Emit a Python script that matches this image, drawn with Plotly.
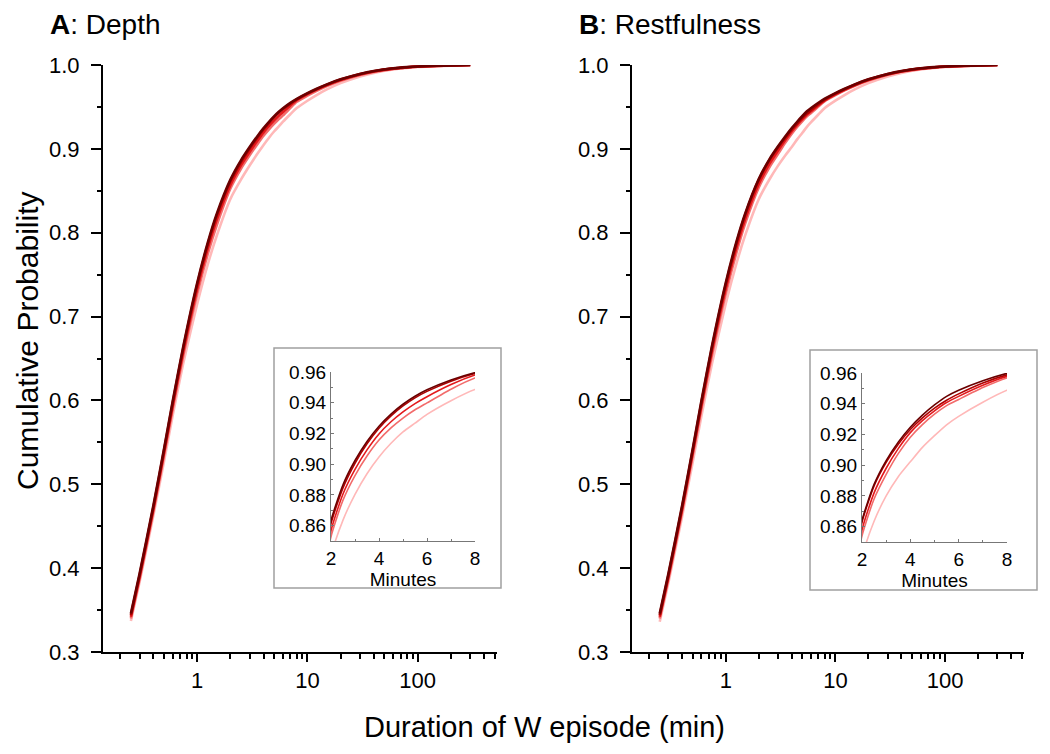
import plotly.graph_objects as go

# ---- data ----
duration_min = [0.25, 0.3, 0.4, 0.5, 0.6, 0.75, 1, 1.25, 1.5, 2, 2.5, 3, 3.5, 4, 4.5, 5, 5.5, 6, 7, 8,
                10, 12, 15, 20, 30, 40, 60, 80, 100, 150, 200, 300]

depth_1 = [.346, .3935, .4747, .5425, .5995, .6654, .7403, .7888, .8221, .8633, .8866, .9024, .9148, .9247, .9326, .9390,
           .9442, .9484, .9548, .9596, .9664, .9714, .9769, .9829, .9894, .9928, .9961, .9975, .9983, .9991, .9994, 1.0]
depth_2 = [.344, .3915, .4727, .5405, .5975, .6634, .7383, .7868, .8201, .8613, .8846, .9006, .9133, .9234, .9314, .9379,
           .9432, .9474, .9540, .9590, .9659, .9710, .9765, .9826, .9892, .9926, .9960, .9974, .9982, .9991, .9994, 1.0]
depth_3 = [.342, .3895, .4702, .5375, .5940, .6594, .7333, .7818, .8151, .8568, .8806, .8966, .9093, .9197, .9276, .9340,
           .9394, .9439, .9518, .9581, .9652, .9704, .9760, .9821, .9888, .9923, .9957, .9972, .9981, .9990, .9993, 1.0]
depth_4 = [.340, .3870, .4677, .5345, .5905, .6544, .7273, .7753, .8086, .8528, .8766, .8926, .9053, .9157, .9236, .9300,
           .9354, .9399, .9488, .9561, .9634, .9689, .9749, .9812, .9882, .9918, .9954, .9970, .9979, .9989, .9993, 1.0]
depth_5 = [.337, .3835, .4627, .5275, .5825, .6454, .7153, .7628, .7961, .8403, .8636, .8804, .8938, .9047, .9136, .9210,
           .9267, .9324, .9413, .9486, .9574, .9639, .9709, .9784, .9864, .9906, .9947, .9965, .9976, .9987, .9992, 1.0]

rest_1 = [.346, .3935, .4747, .5425, .5995, .6654, .7403, .7890, .8225, .8640, .8875, .9030, .9150, .9247, .9326, .9392,
          .9448, .9488, .9550, .9598, .9665, .9714, .9769, .9829, .9894, .9928, .9961, .9975, .9983, .9991, .9994, 1.0]
rest_2 = [.344, .3915, .4727, .5405, .5975, .6634, .7383, .7870, .8210, .8630, .8865, .9018, .9136, .9232, .9308, .9372,
          .9423, .9464, .9535, .9588, .9658, .9709, .9765, .9826, .9892, .9926, .9960, .9974, .9982, .9991, .9994, 1.0]
rest_3 = [.342, .3895, .4702, .5375, .5940, .6594, .7333, .7820, .8157, .8580, .8820, .8980, .9108, .9212, .9290, .9354,
          .9408, .9448, .9520, .9578, .9650, .9702, .9759, .9821, .9888, .9923, .9957, .9972, .9981, .9990, .9993, 1.0]
rest_4 = [.340, .3870, .4677, .5345, .5905, .6544, .7273, .7760, .8105, .8540, .8780, .8940, .9075, .9182, .9264, .9332,
          .9388, .9428, .9505, .9568, .9640, .9694, .9752, .9814, .9883, .9919, .9954, .9970, .9979, .9989, .9993, 1.0]
rest_5 = [.336, .3825, .4617, .5265, .5815, .6444, .7153, .7630, .7965, .8400, .8635, .8800, .8925, .9022, .9116, .9192,
          .9263, .9318, .9410, .9488, .9575, .9639, .9709, .9784, .9864, .9906, .9947, .9965, .9976, .9987, .9992, 1.0]

series_colors = ["#6a0000", "#b00000", "#e3191c", "#f26b6b", "#ffb8b8"]  # dark -> light

main_x_ticks = [1, 10, 100]
main_x_minor = [0.2, 0.3, 0.4, 0.5, 0.6, 0.7, 0.8, 0.9, 2, 3, 4, 5, 6, 7, 8, 9,
                20, 30, 40, 50, 60, 70, 80, 90, 200, 300, 400, 500]
panel_titles = ["<b>A</b>: Depth", "<b>B</b>: Restfulness"]

W, H = 1050, 754
FONT = "Liberation Sans, Arial, sans-serif"

fig = go.Figure()

panels = [
    (["x", "y"], ["x3", "y3"], [depth_1, depth_2, depth_3, depth_4, depth_5]),
    (["x2", "y2"], ["x4", "y4"], [rest_1, rest_2, rest_3, rest_4, rest_5]),
]
for (mx, my), (ix, iy), series in panels:
    # draw light first so dark is on top
    for i in reversed(range(5)):
        fig.add_trace(go.Scatter(x=duration_min, y=series[i], xaxis=mx, yaxis=my, mode="lines",
                                 line=dict(color=series_colors[i], width=2.6, shape="spline", smoothing=0.6),
                                 showlegend=False, hoverinfo="skip"))
        fig.add_trace(go.Scatter(x=duration_min, y=series[i], xaxis=ix, yaxis=iy, mode="lines",
                                 line=dict(color=series_colors[i], width=1.6, shape="spline", smoothing=0.6),
                                 showlegend=False, hoverinfo="skip"))


def px_x(p):
    return p / W


def px_y(p):
    return 1 - p / H


main_x = dict(type="log", range=[-0.855, 2.72], showline=True, linewidth=2, linecolor="black",
              ticks="outside", ticklen=8, tickwidth=1.5, tickcolor="black",
              tickvals=main_x_ticks, ticktext=[str(v) for v in main_x_ticks],
              minor=dict(ticks="outside", ticklen=5, tickwidth=1.5, tickcolor="black", tickvals=main_x_minor),
              showgrid=False, zeroline=False, tickfont=dict(family=FONT, size=22, color="black"),
              automargin=False, fixedrange=True)
main_y = dict(range=[0.3, 1.0], showline=True, linewidth=2, linecolor="black",
              ticks="outside", ticklen=10, tickwidth=1.5, tickcolor="black", dtick=0.1, tickformat=".1f",
              minor=dict(ticks="outside", ticklen=4, tickwidth=1.5, tickcolor="black", dtick=0.05),
              showgrid=False, zeroline=False, tickfont=dict(family=FONT, size=22, color="black"),
              ticklabelstandoff=7, automargin=False, fixedrange=True)
ins_x = dict(range=[2, 8], showline=True, linewidth=1.2, linecolor="#777777",
             ticks="inside", ticklen=3, tickcolor="#777777", dtick=2,
             minor=dict(ticks="inside", ticklen=2, tickcolor="#777777", dtick=1),
             showgrid=False, zeroline=False, tickfont=dict(family=FONT, size=19, color="black"),
             title=dict(text="Minutes", font=dict(family=FONT, size=19, color="black"), standoff=0),
             automargin=False, fixedrange=True)
ins_y = dict(range=[0.85, 0.96], showline=True, linewidth=1.2, linecolor="#777777",
             ticks="inside", ticklen=3, tickcolor="#777777", dtick=0.02, tick0=0.86, tickformat=".2f",
             minor=dict(ticks="inside", ticklen=2, tickcolor="#777777", dtick=0.01),
             showgrid=False, zeroline=False, tickfont=dict(family=FONT, size=19, color="black"),
             automargin=False, fixedrange=True)

fig.update_layout(
    width=W, height=H, margin=dict(l=0, r=0, t=0, b=0), autosize=False,
    plot_bgcolor="white", paper_bgcolor="white",
    xaxis=dict(main_x, domain=[px_x(103), px_x(497)], anchor="y"),
    yaxis=dict(main_y, domain=[px_y(652), px_y(65)], anchor="x"),
    xaxis2=dict(main_x, domain=[px_x(632), px_x(1024)], anchor="y2"),
    yaxis2=dict(main_y, domain=[px_y(652), px_y(65)], anchor="x2"),
    xaxis3=dict(ins_x, domain=[px_x(331), px_x(475)], anchor="y3"),
    yaxis3=dict(ins_y, domain=[px_y(541), px_y(372)], anchor="x3"),
    xaxis4=dict(ins_x, domain=[px_x(862), px_x(1007)], anchor="y4"),
    yaxis4=dict(ins_y, domain=[px_y(542), px_y(373)], anchor="x4"),
    shapes=[
        dict(type="rect", xref="paper", yref="paper", x0=px_x(274), x1=px_x(501), y0=px_y(588), y1=px_y(348),
             line=dict(color="#a0a0a0", width=1.5), layer="below"),
        dict(type="rect", xref="paper", yref="paper", x0=px_x(810), x1=px_x(1037), y0=px_y(590), y1=px_y(350),
             line=dict(color="#a0a0a0", width=1.5), layer="below"),
    ],
    annotations=[
        dict(text=panel_titles[0], xref="paper", yref="paper", x=px_x(48), y=px_y(24), xanchor="left",
             yanchor="middle", showarrow=False, font=dict(family=FONT, size=28, color="black")),
        dict(text=panel_titles[1], xref="paper", yref="paper", x=px_x(577), y=px_y(24), xanchor="left",
             yanchor="middle", showarrow=False, font=dict(family=FONT, size=28, color="black")),
        dict(text="Cumulative Probability", xref="paper", yref="paper", x=px_x(27), y=px_y(341),
             xanchor="center", yanchor="middle", textangle=-90, showarrow=False,
             font=dict(family=FONT, size=30, color="black")),
        dict(text="Duration of W episode (min)", xref="paper", yref="paper", x=px_x(544), y=px_y(727),
             xanchor="center", yanchor="middle", showarrow=False,
             font=dict(family=FONT, size=29, color="black")),
    ],
)

fig.write_html("out.html", post_script="document.body.style.margin='0';",
               config={"displayModeBar": False})
